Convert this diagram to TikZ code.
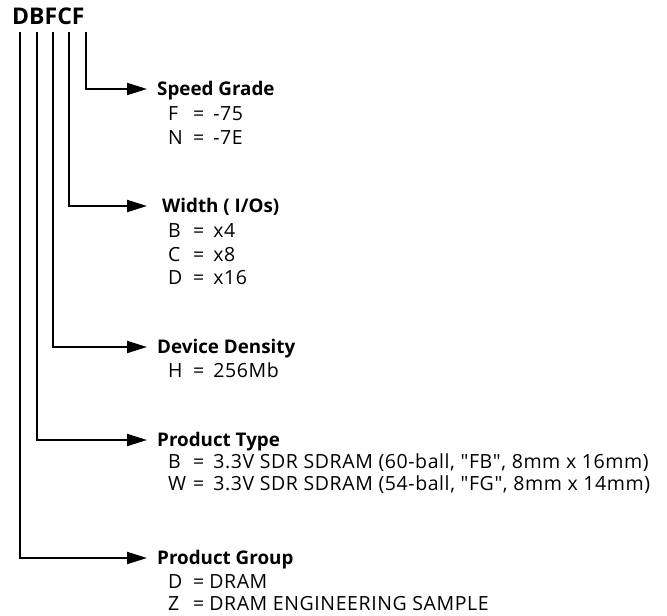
\documentclass[tikz,border=0pt]{standalone}
\usepackage{fontspec}
\setmainfont{Open Sans}[Ligatures=TeXOff]
\usetikzlibrary{arrows.meta}

% one "code = meaning" line of an ordering option
\newcommand{\optline}[3][9pt]{\makebox[25pt][l]{#2}=\hspace{#1}#3}

\begin{document}
\begin{tikzpicture}[
  x=1pt, y=-1pt,
  font=\fontsize{19.5}{22}\selectfont\addfontfeature{LetterSpace=3},
  part/.style={
    font=\fontsize{23}{26}\selectfont\bfseries,
    inner sep=0pt, anchor=base west
  },
  field/.style={
    font=\fontsize{18.8}{22}\selectfont\bfseries,
    inner sep=0pt, anchor=west, text height=13.4pt, text depth=0pt
  },
  choice/.style={inner sep=0pt, anchor=base west},
  lead/.style={
    line width=2pt, -{Triangle[length=20pt, width=12pt]},
    shorten >=10pt
  },
]
\useasboundingbox (0,0) rectangle (667,616);

% Part number and the tops of its five lead lines
\node[part] (pn) at (12,24) {DBFCF};
\coordinate (c1) at (20,32);
\coordinate (c2) at (37,32);
\coordinate (c3) at (53,32);
\coordinate (c4) at (69,32);
\coordinate (c5) at (86,32);

% Field names, one per character position
\node[field] (speed)   at (157,89)  {Speed Grade};
\node[field] (width)   at (162,206) {Width ( I/Os)};
\node[field] (density) at (157,347) {Device Density};
\node[field] (type)    at (157,440) {Product Type};
\node[field] (group)   at (157,558) {Product Group};

% Lead lines from the part number to each field
\draw[lead] (c5) |- (speed.west);
\draw[lead, shorten >=15pt] (c4) |- (width.west);
\draw[lead] (c3) |- (density.west);
\draw[lead] (c2) |- (type.west);
\draw[lead] (c1) |- (group.west);

% Speed grade codes
\node[choice] (sg1) at (168,120) {\optline{F}{-75}};
\node[choice] (sg2) at (168,144) {\optline{N}{-7E}};

% Width codes
\node[choice] (wd1) at (168,237) {\optline{B}{x4}};
\node[choice] (wd2) at (168,261) {\optline{C}{x8}};
\node[choice] (wd3) at (168,284) {\optline{D}{x16}};

% Density code
\node[choice] (dd1) at (168,377) {\optline{H}{256Mb}};

% Product type codes
\node[choice] (pt1) at (168,468) {\optline{B}{3.3V SDR SDRAM (60-ball, "FB", 8mm x 16mm)}};
\node[choice] (pt2) at (168,490) {\optline{W}{3.3V SDR SDRAM (54-ball, "FG", 8mm x 14mm)}};

% Product group codes
\node[choice] (pg1) at (168,588) {\optline[5pt]{D}{DRAM}};
\node[choice] (pg2) at (168,610) {\optline[5pt]{Z}{DRAM ENGINEERING SAMPLE}};

\end{tikzpicture}
\end{document}
